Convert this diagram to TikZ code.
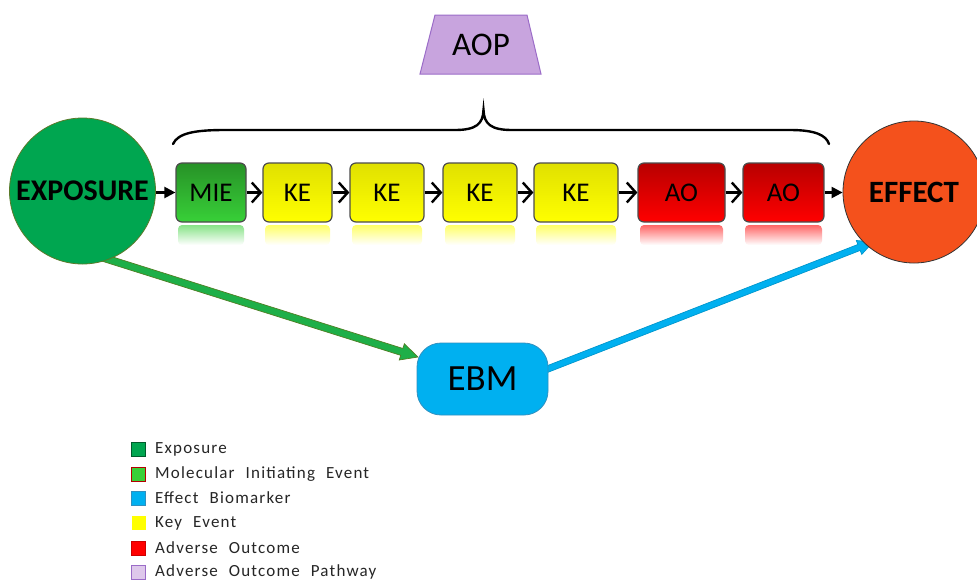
\documentclass[tikz,border=0pt]{standalone}
\usepackage{fontspec}
\setmainfont{Carlito}
\newfontfamily\legfont[LetterSpace=7,WordSpace=2.2]{Carlito}
\usetikzlibrary{arrows.meta,calc}
\definecolor{expgreen}{HTML}{00A650}
\definecolor{expborder}{HTML}{5A7A2A}
\definecolor{miegreen}{HTML}{38D038}
\definecolor{ebmblue}{HTML}{00B0F0}
\definecolor{ebmborder}{HTML}{3090C0}
\definecolor{keyellow}{HTML}{FFFF00}
\definecolor{aored}{HTML}{FF0000}
\definecolor{aoplav}{HTML}{C8A4DE}
\definecolor{aopborder}{HTML}{9B6CC8}
\definecolor{effor}{HTML}{F4511C}
\definecolor{arrgreen}{HTML}{1EAF48}
\definecolor{arrgreenb}{HTML}{4F7F23}
\definecolor{legtext}{HTML}{262626}
\tikzset{
  evbox/.style={draw=black!70, line width=1.2pt, rounded corners=6pt,
    minimum height=59pt, inner sep=0pt, font=\fontsize{27}{30}\selectfont},
  chain/.style={line width=2.2pt, -{Straight Barb[length=9pt,width=20pt,line width=2.4pt]}},
  endarrow/.style={line width=2.2pt, -{Triangle[length=11pt,width=11pt]}},
  bigcircle/.style={circle, inner sep=0pt, line width=0.8pt},
  legsq/.style={minimum size=14pt, inner sep=0pt, line width=0.8pt},
  legtxt/.style={anchor=west, inner sep=0pt, text=legtext,
    font=\legfont\fontsize{17}{20}\selectfont},
}
\newcommand{\fatarrow}[7]{%
  % #1 start, #2 tip, #3 shaft half, #4 head half, #5 head length, #6 fill, #7 draw
  \coordinate (fa-h) at ($(#2)!#5!(#1)$);
  \filldraw[fill=#6, draw=#7, line width=0.7pt, line join=miter]
    ($(#1)!#3!90:(#2)$) -- ($(fa-h)!#3!90:(#2)$) -- ($(fa-h)!#4!90:(#2)$)
    -- (#2) -- ($(fa-h)!#4!-90:(#2)$) -- ($(fa-h)!#3!-90:(#2)$)
    -- ($(#1)!#3!-90:(#2)$) -- cycle;}
\begin{document}
\begin{tikzpicture}[x=1pt,y=-1pt]
\useasboundingbox (0,0) rectangle (977,582);
\fill[white] (0,0) rectangle (977,582);

% AOP trapezoid
\filldraw[fill=aoplav, draw=aopborder, line width=1pt] (435,15) -- (527,15) -- (541,74) -- (420,74) -- cycle;
\node[font=\fontsize{33}{36}\selectfont] (aop) at (481,45) {AOP};

% brace
\draw[line width=2.4pt, line cap=round]
  (173,144) .. controls (178,133) and (195,130) .. (225,130)
  -- (455,130) .. controls (476,130) and (483,124) .. (483.5,110)
  .. controls (484,124) and (491,130) .. (512,130)
  -- (790,130) .. controls (815,130) and (826,135) .. (829,144);

% fat arrows (behind)
\coordinate (gs) at (85,252);
\coordinate (gt) at (418,357);
\coordinate (bs) at (545,370);
\coordinate (bt) at (873,242);
\fatarrow{gs}{gt}{3.6pt}{8.5pt}{17pt}{arrgreen}{arrgreenb}
\fatarrow{bs}{bt}{3.2pt}{7.5pt}{15pt}{ebmblue}{ebmblue!85!black}

% circles
\node[bigcircle, draw=expborder, fill=expgreen, minimum size=146pt,
  font=\bfseries\fontsize{30}{32}\selectfont] (exp) at (82.5,191) {EXPOSURE};
\node[bigcircle, draw=black!80, fill=effor, minimum size=142pt,
  font=\bfseries\fontsize{31}{33}\selectfont] (eff) at (914,192) {EFFECT};

% reflections
\foreach \xa/\xb/\c in {176/246/miegreen, 263/332/keyellow, 350/424/keyellow,
    443/517/keyellow, 534/618/keyellow, 638/725/aored, 743/824/aored}{
  \shade[top color=\c!60, bottom color=white, rounded corners=4pt]
    (\xa+2,225) rectangle (\xb-2,245);
}

% event boxes
\tikzset{
  miefill/.style={top color=miegreen!70!black, middle color=miegreen!92!black, bottom color=miegreen},
  kefill/.style={top color=keyellow!88!black, middle color=keyellow, bottom color=keyellow},
  aofill/.style={top color=aored!72!black, middle color=aored!95!black, bottom color=aored},
}
\node[evbox, minimum width=70pt, miefill] (mie) at (211,192.5) {MIE};
\node[evbox, minimum width=69pt, kefill] (ke1) at (297.5,192.5) {KE};
\node[evbox, minimum width=74pt, kefill] (ke2) at (387,192.5) {KE};
\node[evbox, minimum width=74pt, kefill] (ke3) at (480,192.5) {KE};
\node[evbox, minimum width=84pt, kefill] (ke4) at (576,192.5) {KE};
\node[evbox, minimum width=87pt, aofill] (ao1) at (681.5,192.5) {AO};
\node[evbox, minimum width=81pt, aofill] (ao2) at (783.5,192.5) {AO};

% chain connectors
\draw[endarrow] (exp.east |- mie) -- (mie);
\draw[chain] (mie) -- (ke1);
\draw[chain] (ke1) -- (ke2);
\draw[chain] (ke2) -- (ke3);
\draw[chain] (ke3) -- (ke4);
\draw[chain] (ke4) -- (ao1);
\draw[chain] (ao1) -- (ao2);
\draw[endarrow] (ao2) -- (eff.west |- ao2);

% EBM
\node[draw=ebmborder, fill=ebmblue, line width=0.8pt, rounded corners=24pt,
  minimum width=131pt, minimum height=72pt, inner sep=0pt,
  font=\fontsize{37}{40}\selectfont] (ebm) at (482.5,379) {EBM};

% legend
\node[legsq, fill=expgreen, draw=expgreen!55!black] (l1) at (138.5,449) {};
\node[legsq, fill=miegreen, draw=red!70!black] (l2) at (138.5,474) {};
\node[legsq, fill=ebmblue, draw=ebmborder] (l3) at (138.5,498) {};
\node[legsq, fill=keyellow] (l4) at (138.5,523) {};
\node[legsq, fill=aored, draw=red!80!black] (l5) at (138.5,548) {};
\node[legsq, fill=aoplav!60, draw=aopborder] (l6) at (138.5,572) {};
\node[legtxt] (t1) at (155,449) {Exposure};
\node[legtxt] (t2) at (155,474) {Molecular Initiating Event};
\node[legtxt] (t3) at (155,498) {Effect Biomarker};
\node[legtxt] (t4) at (155,523) {Key Event};
\node[legtxt] (t5) at (155,548) {Adverse Outcome};
\node[legtxt] (t6) at (155,572) {Adverse Outcome Pathway};
\end{tikzpicture}
\end{document}
